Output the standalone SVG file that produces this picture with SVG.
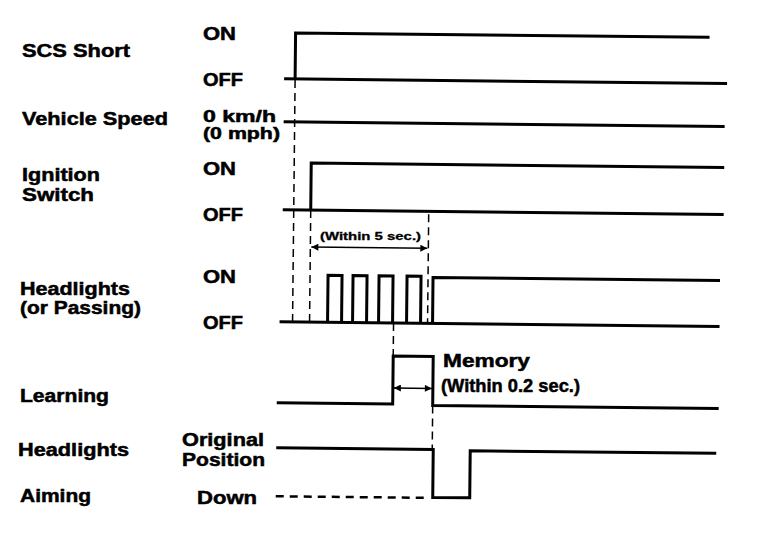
<svg xmlns="http://www.w3.org/2000/svg" width="768" height="546" viewBox="0 0 768 546">
<defs>
<style>
text{font-family:"Liberation Sans",Arial,Helvetica,sans-serif;font-weight:bold;font-size:18px;fill:#000;stroke:#000;stroke-width:0.5}
.small{font-size:11px;stroke-width:0.3}
.tight{font-size:16px}
.wave{fill:none;stroke:#000;stroke-width:3;stroke-linejoin:miter;stroke-linecap:butt}
.dash{fill:none;stroke:#000;stroke-width:1.5;stroke-dasharray:8 5}
.dashh{fill:none;stroke:#000;stroke-width:2.5;stroke-dasharray:8 6}
.arrow{fill:none;stroke:#000;stroke-width:1.5;marker-start:url(#ah);marker-end:url(#ah)}
</style>
<marker id="ah" viewBox="0 0 10 10" refX="10" refY="5" markerWidth="9" markerHeight="7" markerUnits="userSpaceOnUse" orient="auto-start-reverse">
<path d="M0,0 L10,5 L0,10 z" fill="#000"/>
</marker>
</defs>
<rect width="768" height="546" fill="#fff"/>

<g id="labels">
<g id="scs-label"><text x="22" y="57" textLength="108" lengthAdjust="spacingAndGlyphs">SCS Short</text></g>
<g id="speed-label"><text x="22" y="125" textLength="146" lengthAdjust="spacingAndGlyphs">Vehicle Speed</text></g>
<g id="ign-label"><text x="22" y="181" textLength="78" lengthAdjust="spacingAndGlyphs">Ignition</text><text x="22" y="201" textLength="72" lengthAdjust="spacingAndGlyphs">Switch</text></g>
<g id="hl-label"><text x="20" y="295" textLength="110" lengthAdjust="spacingAndGlyphs">Headlights</text><text x="20" y="314" textLength="121" lengthAdjust="spacingAndGlyphs">(or Passing)</text></g>
<g id="learn-label"><text x="20" y="402" textLength="89" lengthAdjust="spacingAndGlyphs">Learning</text></g>
<g id="aim-label"><text x="18" y="456" textLength="111" lengthAdjust="spacingAndGlyphs">Headlights</text><text x="20" y="502" textLength="71" lengthAdjust="spacingAndGlyphs">Aiming</text></g>
</g>

<g id="states">
<text x="203" y="40" textLength="33" lengthAdjust="spacingAndGlyphs">ON</text>
<text x="203" y="86" textLength="40" lengthAdjust="spacingAndGlyphs">OFF</text>
<text class="tight" x="203" y="122" textLength="73" lengthAdjust="spacingAndGlyphs">0 km/h</text>
<text class="tight" x="203" y="139" textLength="77" lengthAdjust="spacingAndGlyphs">(0 mph)</text>
<text x="203" y="175" textLength="33" lengthAdjust="spacingAndGlyphs">ON</text>
<text x="203" y="221" textLength="40" lengthAdjust="spacingAndGlyphs">OFF</text>
<text x="203" y="283" textLength="33" lengthAdjust="spacingAndGlyphs">ON</text>
<text x="203" y="329" textLength="40" lengthAdjust="spacingAndGlyphs">OFF</text>
<text x="182" y="446" textLength="82" lengthAdjust="spacingAndGlyphs">Original</text>
<text x="182" y="466" textLength="83" lengthAdjust="spacingAndGlyphs">Position</text>
<text x="197" y="504" textLength="60" lengthAdjust="spacingAndGlyphs">Down</text>
</g>

<g id="connectors" transform="rotate(0.6 300 280)">
<g id="scs-wave"><path class="wave" d="M282,79 H725"/><path class="wave" d="M293,79 V33 H707"/></g>
<g id="speed-wave"><path class="wave" d="M282,122 H723"/></g>
<g id="ign-wave"><path class="wave" d="M282,210 H723"/><path class="wave" d="M310,210 V163 H723"/></g>
<g id="hl-wave"><path class="wave" d="M280,322 H720"/><path class="wave" d="M328,322 V275 H342 V322 M353,322 V275 H367 V322 M379,322 V275 H393 V322 M407,322 V275 H421 V322 M433,322 V276 H720"/></g>
<g id="learn-wave"><path class="wave" d="M278,403 H394 V355 H434 V404 H720"/></g>
<g id="aim-wave"><path class="wave" d="M278,448 H435 V496 H472 V449 H718"/><path class="dashh" d="M278,496.5 H432"/></g>
<g id="guides">
<path class="dash" d="M293,80 V322"/>
<path class="dash" d="M310,210 V322"/>
<path class="dash" d="M428,213 V322"/>
<path class="dash" d="M394,322 V355"/>
<path class="dash" d="M434,404 V448"/>
</g>
<g id="arrows">
<path class="arrow" d="M311,247 H427"/>
<path class="arrow" d="M395,387 H433"/>
</g>
</g>

<g id="notes">
<text class="small" x="320" y="240" textLength="101" lengthAdjust="spacingAndGlyphs">(Within 5 sec.)</text>
<text x="443" y="367" textLength="87" lengthAdjust="spacingAndGlyphs">Memory</text>
<text x="441" y="392" textLength="139" lengthAdjust="spacingAndGlyphs">(Within 0.2 sec.)</text>
</g>
</svg>
